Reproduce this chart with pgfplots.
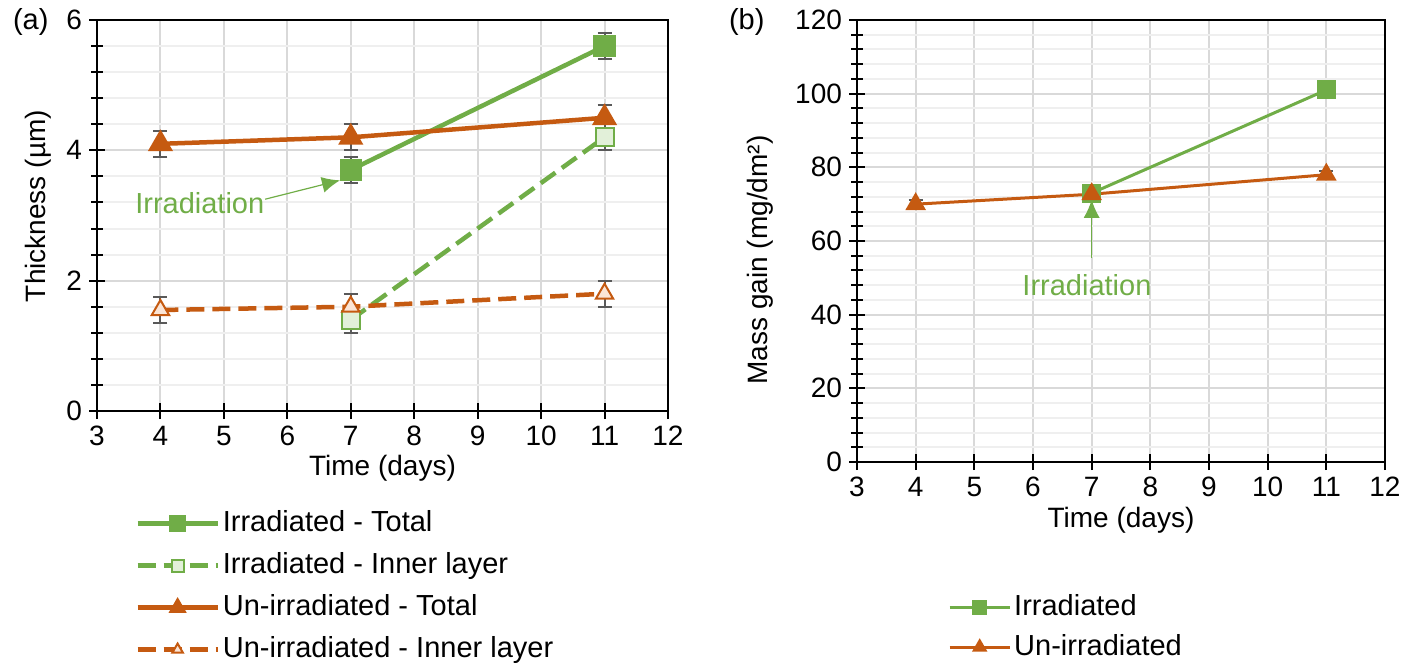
\documentclass[border=0pt]{standalone}
\usepackage{fontspec}
\setmainfont{Liberation Sans}
\usepackage{pgfplots}
\pgfplotsset{compat=1.18}
\usetikzlibrary{arrows.meta}

\definecolor{cgreen}{HTML}{70AD47}
\definecolor{corange}{HTML}{C55A11}
\definecolor{lgreen}{HTML}{E2F0D9}
\definecolor{lorange}{HTML}{FBE5D6}
\definecolor{errgray}{HTML}{595959}
\definecolor{gridmaj}{HTML}{D9D9D9}
\definecolor{gridmin}{HTML}{EFEFEF}

\pgfplotsset{
  excel/.style={
    scale only axis,
    font=\fontsize{14}{17}\selectfont,
    /pgf/number format/assume math mode=true,
    axis line style={black, line width=1pt},
    tick style={black, line width=1pt},
    tick align=center,
    major tick length=8pt, minor tick length=6pt,
    xtick pos=bottom, ytick pos=left,
    xmin=3, xmax=12, xtick={3,...,12},
    minor y tick num=4,
    xmajorgrids, ymajorgrids, yminorgrids,
    major grid style={gridmaj, line width=1pt},
    minor grid style={gridmin, line width=1pt},
    legend cell align=left,
    legend style={draw=none, fill=none, inner sep=0pt,
      font=\fontsize{14.5}{17}\selectfont,
      nodes={inner xsep=1.5pt, inner ysep=0pt, text height=11pt, text depth=3pt}},
    every legend image post/.style={mark size=3pt},
  },
  ebar/.style={error bars/.cd, y dir=both, y explicit,
    error bar style={errgray, line width=1pt, solid},
    error mark options={rotate=90, mark size=3.5pt, errgray, line width=1pt, solid}},
  dashedline/.style={dash pattern=on 9pt off 4pt},
}

\begin{document}
\begin{tikzpicture}
\path[use as bounding box] (0,0) rectangle (709.5pt,-332pt);

% (a) thickness
\begin{axis}[excel,
  at={(48.5pt,-205.5pt)}, anchor=south west,
  width=285.5pt, height=195.5pt,
  ymin=0, ymax=6, ytick={0,2,4,6},
  xlabel={Time (days)}, ylabel={Thickness (µm)},
  x label style={at={(axis description cs:0.5,-0.146)}, anchor=center},
  y label style={at={(axis description cs:-0.103,0.524)}, anchor=center},
  legend image code/.code={\draw[mark repeat=2,mark phase=2,#1]
    plot coordinates {(0pt,0pt) (20pt,0pt) (40pt,0pt)};},
  legend style={at={(0.0665,-0.251)}, anchor=north west, row sep=7pt},
]
\addplot[cgreen, line width=2.25pt, mark=square*, mark size=4.5pt,
  mark options={solid, fill=cgreen}, ebar]
  coordinates {(7,3.7) +- (0,0.2) (11,5.6) +- (0,0.2)};
\addlegendentry{Irradiated - Total}
\addplot[cgreen, line width=2.25pt, dashedline,
  mark=square*, mark size=4.5pt,
  mark options={solid, fill=lgreen, draw=cgreen, line width=1pt}, ebar]
  coordinates {(7,1.4) +- (0,0.2) (11,4.2) +- (0,0.2)};
\addlegendentry{Irradiated - Inner layer}
\addplot[corange, line width=2.25pt, mark=triangle*, mark size=5pt,
  mark options={solid, fill=corange}, ebar]
  coordinates {(4,4.1) +- (0,0.2) (7,4.2) +- (0,0.2) (11,4.5) +- (0,0.2)};
\addlegendentry{Un-irradiated - Total}
\addplot[corange, line width=2.25pt, dashedline,
  mark=triangle*, mark size=5pt,
  mark options={solid, fill=lorange, draw=corange, line width=1pt}, ebar]
  coordinates {(4,1.55) +- (0,0.2) (7,1.6) +- (0,0.2) (11,1.8) +- (0,0.2)};
\addlegendentry{Un-irradiated - Inner layer}
\draw[cgreen, line width=0.6pt, -{Latex[length=9pt,width=8pt]}]
  (axis cs:5.65,3.25) -- (axis cs:6.83,3.54);
\node[cgreen, font=\fontsize{14.5}{17}\selectfont] at (axis cs:4.62,3.19) {Irradiation};
\end{axis}

% (b) mass gain
\begin{axis}[excel,
  at={(428.5pt,-231pt)}, anchor=south west,
  width=264pt, height=221pt,
  ymin=0, ymax=120, ytick={0,20,...,120},
  xlabel={Time (days)}, ylabel={Mass gain (mg/dm²)},
  x label style={at={(axis description cs:0.5,-0.131)}, anchor=center},
  y label style={at={(axis description cs:-0.184,0.457)}, anchor=center},
  legend image code/.code={\draw[mark repeat=2,mark phase=2,#1]
    plot coordinates {(0pt,0pt) (15pt,0pt) (30pt,0pt)};},
  legend style={at={(0.172,-0.296)}, anchor=north west, row sep=6pt},
]
\addplot[cgreen, line width=1.5pt, mark=square*, mark size=4pt,
  mark options={solid, fill=cgreen}, ebar]
  coordinates {(7,73) +- (0,1) (11,101) +- (0,1)};
\addlegendentry{Irradiated}
\addplot[corange, line width=1.5pt, mark=triangle*, mark size=4.5pt,
  mark options={solid, fill=corange}, ebar]
  coordinates {(4,70) +- (0,1) (7,72.7) +- (0,1) (11,78) +- (0,1)};
\addlegendentry{Un-irradiated}
\draw[cgreen, line width=0.6pt, -{Latex[length=9pt,width=8pt]}]
  (axis cs:7,55.4) -- (axis cs:7,71.2);
\node[cgreen, font=\fontsize{14.5}{17}\selectfont] at (axis cs:6.92,48.1) {Irradiation};
\end{axis}

\node[anchor=west, font=\fontsize{14.5}{17}\selectfont] at (3pt,-11pt) {(a)};
\node[anchor=west, font=\fontsize{14.5}{17}\selectfont] at (361pt,-11pt) {(b)};
\end{tikzpicture}
\end{document}
